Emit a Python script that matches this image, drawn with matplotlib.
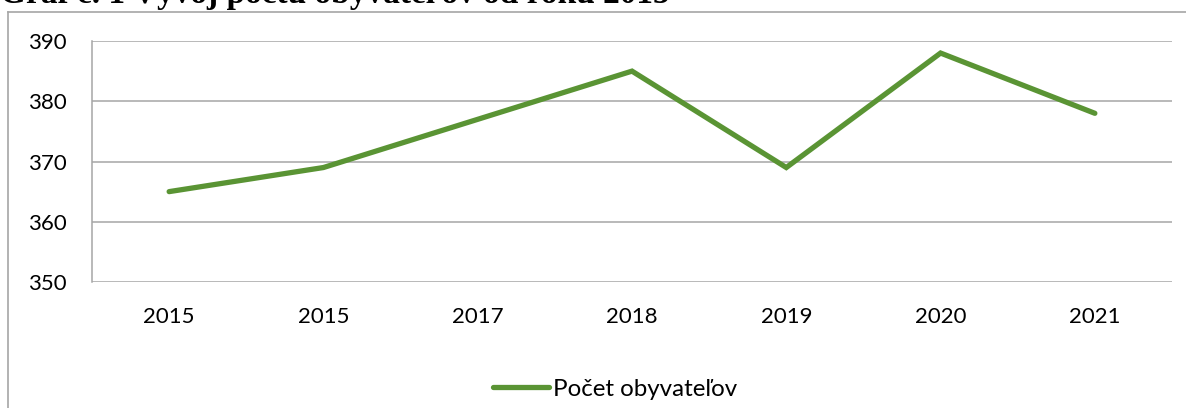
import matplotlib.pyplot as plt
from matplotlib.lines import Line2D

# data
roky = ['2015', '2015', '2017', '2018', '2019', '2020', '2021']
obyvatelia = [365, 369, 377, 385, 369, 388, 378]
y_ticks = [350, 360, 370, 380, 390]

W, H = 1186, 408
fig = plt.figure(figsize=(W / 100, H / 100), dpi=100)
fig.patch.set_facecolor('white')

# outer chart frame (only top and left edges visible in the crop)
fig.add_artist(Line2D([8 / W, 8 / W], [0, 1 - 12 / H], color='#a6a6a6', lw=1.2))
fig.add_artist(Line2D([8 / W, 1], [1 - 12 / H, 1 - 12 / H], color='#a6a6a6', lw=1.2))

# cut-off caption above the chart
fig.text(0 / W, 1 - 3 / H, 'Graf č. 1 Vývoj počtu obyvateľov od roku 2015',
         fontsize=24, fontweight='bold', family='Liberation Serif',
         va='baseline', ha='left', color='black')

ax = fig.add_axes([92 / W, 1 - 282 / H, (1172 - 92) / W, (282 - 41) / H])
x = list(range(len(roky)))
ax.plot(x, obyvatelia, color='#5a9434', lw=3.8, solid_capstyle='round',
        solid_joinstyle='miter', label='Počet obyvateľov')

ax.set_xlim(-0.5, len(roky) - 0.5)
ax.set_ylim(350, 390)
ax.set_yticks(y_ticks)
ax.set_xticks(x)
ax.set_xticklabels(roky)

ax.grid(axis='y', color='#a6a6a6', lw=1.1)
ax.set_axisbelow(True)
for s in ['top', 'right', 'bottom']:
    ax.spines[s].set_visible(False)
ax.spines['left'].set_color('#a6a6a6')
ax.spines['left'].set_linewidth(1.1)
ax.tick_params(length=0, labelsize=16, colors='black')
ax.tick_params(axis='y', pad=18.5)
ax.tick_params(axis='x', pad=18)
for lab in ax.get_xticklabels() + ax.get_yticklabels():
    lab.set_family('Lato')

fig.legend(loc='center', bbox_to_anchor=(615 / W, 1 - 389 / H), frameon=False,
           prop={'family': 'Lato', 'size': 17.4}, handlelength=2.3,
           handletextpad=0.17)

fig.savefig('out.png', dpi=100)
